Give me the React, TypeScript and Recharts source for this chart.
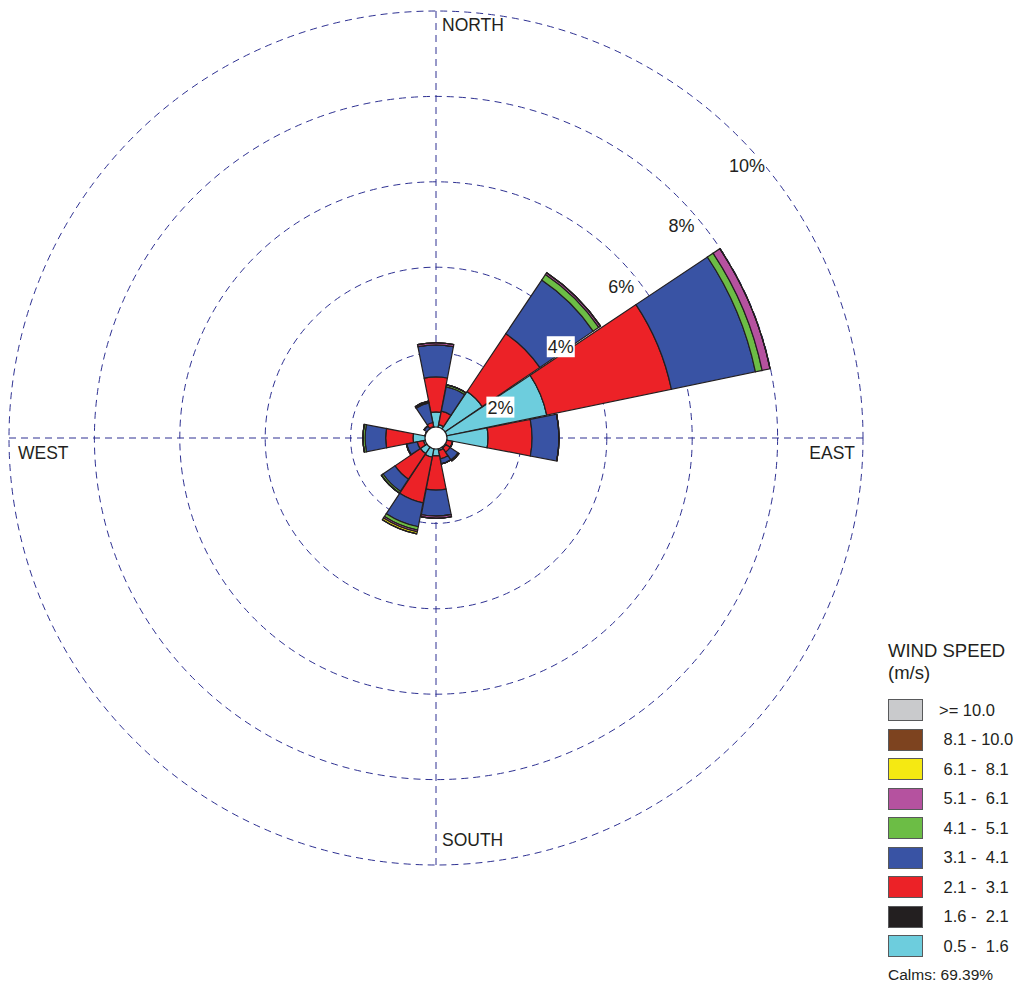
import React from 'react';
import {
  RadialBarChart,
  RadialBar,
  PolarGrid,
  PolarAngleAxis,
  PolarRadiusAxis,
  Legend,
} from 'recharts';

// 16 compass sectors, clockwise from north
const directions = ['N', 'NNE', 'NE', 'ENE', 'E', 'ESE', 'SE', 'SSE', 'S', 'SSW', 'SW', 'WSW', 'W', 'WNW', 'NW', 'NNW'];

// frequency (%) per direction for each wind speed class (m/s)
const speed05to16 = [0.61, 0.32, 1.31, 2.65, 1.22, 0.26, 0.28, 0.3, 0.42, 0.46, 0.44, 0.3, 0.54, 0.22, 0.2, 0.27];
const speed16to21 = [0, 0, 0, 0, 0, 0, 0, 0, 0, 0, 0, 0, 0, 0, 0, 0];
const speed21to31 = [0.82, 0.32, 1.63, 2.98, 1.03, 0.14, 0.12, 0.2, 0.8, 1.09, 0.72, 0.15, 0.64, 0.04, 0.05, 0.1];
const speed31to41 = [0.75, 0.58, 1.51, 2.01, 0.63, 0, 0.22, 0.12, 0.61, 0.57, 0.34, 0.25, 0.48, 0, 0.09, 0.47];
const speed41to51 = [0, 0.05, 0.16, 0.16, 0, 0, 0.03, 0, 0, 0.08, 0.05, 0.01, 0.05, 0, 0, 0.02];
const speed51to61 = [0.05, 0, 0.05, 0.19, 0, 0, 0, 0, 0.05, 0.04, 0, 0, 0, 0, 0, 0.02];
const speed61to81 = [0, 0, 0, 0, 0, 0, 0, 0, 0, 0.05, 0, 0, 0, 0, 0, 0];
const speed81to100 = [0, 0, 0, 0, 0, 0, 0, 0, 0, 0, 0, 0, 0, 0, 0, 0];
const speed100up = [0, 0, 0, 0, 0, 0, 0, 0, 0, 0, 0, 0, 0, 0, 0, 0];

const calmsPct = 69.39;

// inner to outer stacking order
const bins = [
  { key: 's05', label: ' 0.5 -  1.6', color: '#6dcddd', values: speed05to16 },
  { key: 's16', label: ' 1.6 -  2.1', color: '#231f20', values: speed16to21 },
  { key: 's21', label: ' 2.1 -  3.1', color: '#ec2227', values: speed21to31 },
  { key: 's31', label: ' 3.1 -  4.1', color: '#3953a4', values: speed31to41 },
  { key: 's41', label: ' 4.1 -  5.1', color: '#6cbd45', values: speed41to51 },
  { key: 's51', label: ' 5.1 -  6.1', color: '#b5529f', values: speed51to61 },
  { key: 's61', label: ' 6.1 -  8.1', color: '#f5e912', values: speed61to81 },
  { key: 's81', label: ' 8.1 - 10.0', color: '#7d431f', values: speed81to100 },
  { key: 's100', label: '>= 10.0', color: '#c9cacc', values: speed100up },
];

const rows = directions.map((dir, i) => {
  const row: Record<string, string | number> = { dir };
  bins.forEach((b) => {
    row[b.key] = b.values[i];
  });
  return row;
});

const FONT = '"Liberation Sans", Arial, sans-serif';
const INK = '#231f20';
const GRID = '#2e3192';
const CX = 436;
const CY = 438;
const R = 427;

const compassNames: Record<string, string> = { N: 'NORTH', E: 'EAST', S: 'SOUTH', W: 'WEST' };

// only the four cardinal points get a label, tucked inside the outer ring
function CompassTick(props: any) {
  const name = compassNames[props.payload?.value];
  if (!name) return <g />;
  let x = CX + 6;
  let y = CY - R + 20;
  let anchor: 'start' | 'end' = 'start';
  if (name === 'EAST') {
    x = CX + R - 8;
    y = CY + 21;
    anchor = 'end';
  } else if (name === 'WEST') {
    x = CX - R + 9;
    y = CY + 21;
  } else if (name === 'SOUTH') {
    y = CY + R - 19;
  }
  return (
    <text x={x} y={y} textAnchor={anchor} fontSize={17.5} fontFamily={FONT} fill={INK}>
      {name}
    </text>
  );
}

function PctTick(props: any) {
  const v = props.payload?.value;
  if (!v) return <g />;
  const label = `${v}%`;
  const w = (label.length - 1) * 10 + 18;
  return (
    <g>
      <rect x={props.x - 10} y={props.y + 19} width={w} height={21} fill="#fff" />
      <text x={props.x - 9} y={props.y + 36} fontSize={18} fontFamily={FONT} fill={INK}>
        {label}
      </text>
    </g>
  );
}

function WindLegend() {
  const order = [...bins].reverse();
  return (
    <div style={{ fontFamily: FONT, color: INK }}>
      <div style={{ fontSize: 18.5, lineHeight: '22px' }}>WIND SPEED</div>
      <div style={{ fontSize: 18.5, lineHeight: '22px' }}>(m/s)</div>
      <div style={{ marginTop: 15 }}>
        {order.map((b) => (
          <div key={b.key} style={{ display: 'flex', alignItems: 'center', height: 22, marginBottom: 7.5 }}>
            <div style={{ width: 33, height: 20, background: b.color, border: '1px solid #58595b' }} />
            <span style={{ marginLeft: 16, fontSize: 16.5, whiteSpace: 'pre' }}>{b.label}</span>
          </div>
        ))}
      </div>
      <div style={{ fontSize: 15.5, lineHeight: '20px', marginTop: 5.5 }}>Calms: {calmsPct.toFixed(2)}%</div>
    </div>
  );
}

export default function App() {
  return (
    <div style={{ position: 'absolute', left: 0, top: 0, width: 1015, height: 991, background: '#fff' }}>
      <RadialBarChart
        width={1015}
        height={991}
        data={rows}
        cx={CX}
        cy={CY}
        innerRadius={0}
        outerRadius={R}
        startAngle={78.75}
        endAngle={-281.25}
        layout="centric"
        barCategoryGap="2%"
        margin={{ top: 0, right: 0, bottom: 0, left: 0 }}
      >
        <PolarGrid gridType="circle" polarAngles={[90, 0, -90, 180]} stroke={GRID} strokeDasharray="7 5" />
        <PolarAngleAxis type="category" dataKey="dir" axisLine={false} tickLine={false} tick={CompassTick} />
        {bins.map((b) => (
          <RadialBar
            key={b.key}
            dataKey={b.key}
            stackId="wind"
            fill={b.color}
            stroke={INK}
            strokeWidth={1.2}
            isAnimationActive={false}
          />
        ))}
        <PolarRadiusAxis
          type="number"
          domain={[0, 10]}
          tickCount={6}
          angle={45}
          axisLine={false}
          tick={PctTick}
        />
        <Legend
          layout="vertical"
          align="right"
          verticalAlign="bottom"
          content={WindLegend}
          wrapperStyle={{ left: 888, top: 640, right: 'auto', bottom: 'auto', width: 127 }}
        />
      </RadialBarChart>
      {/* calm circle */}
      <svg
        width={1015}
        height={991}
        style={{ position: 'absolute', left: 0, top: 0, pointerEvents: 'none' }}
      >
        <circle cx={CX} cy={CY} r={11} fill="#fff" stroke={INK} strokeWidth={1.2} />
      </svg>
    </div>
  );
}
